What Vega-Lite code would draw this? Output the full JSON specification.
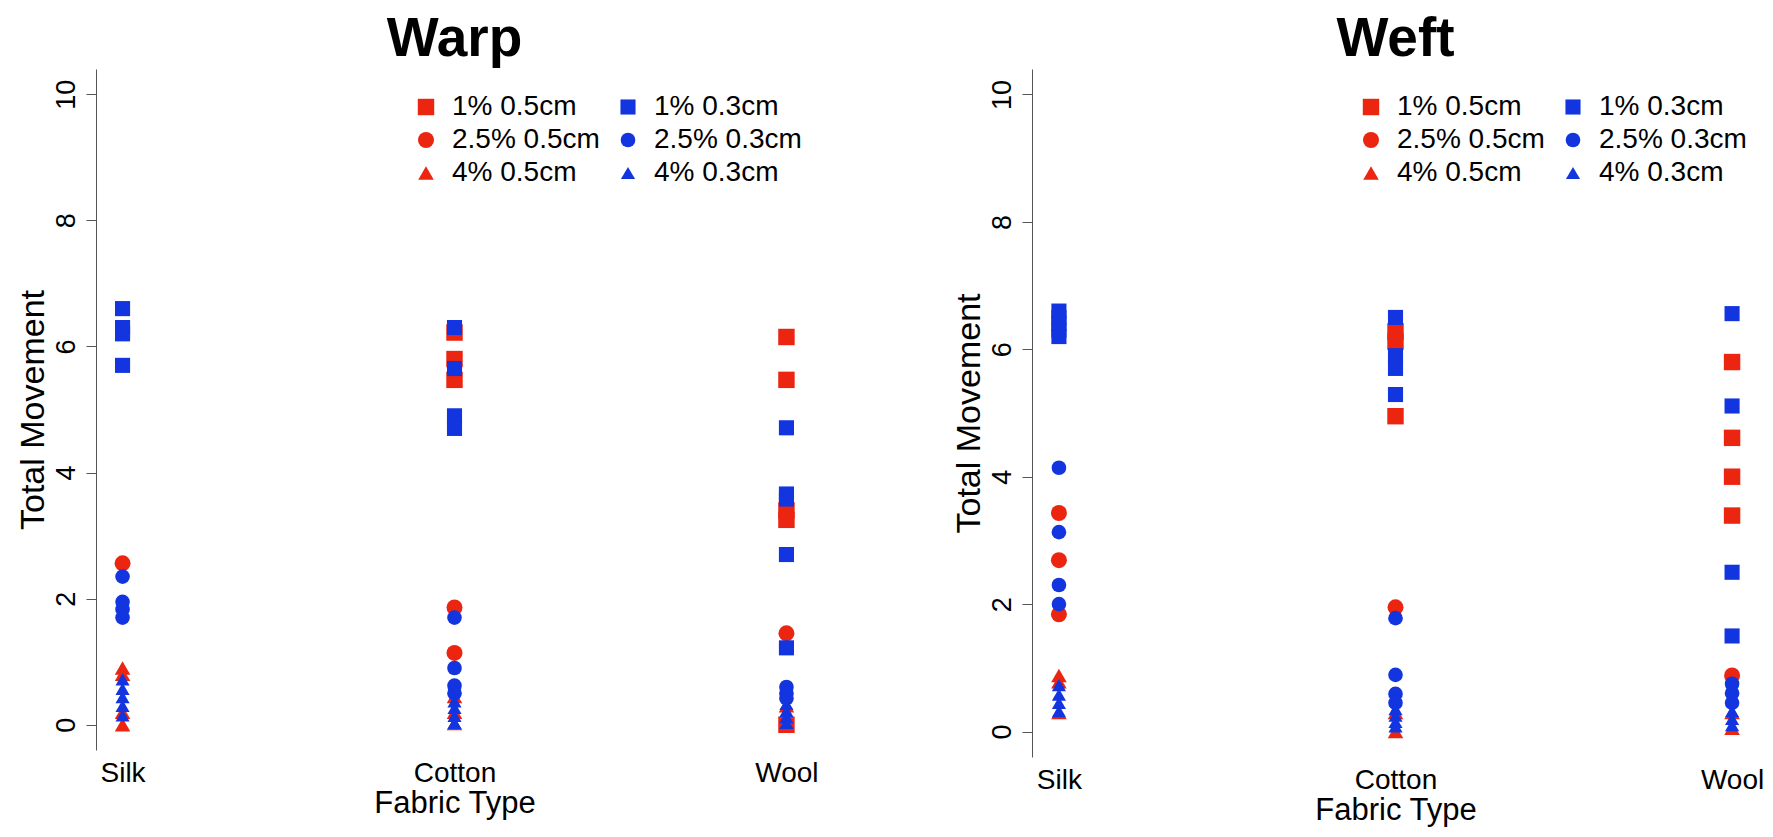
{
  "$schema": "https://vega.github.io/schema/vega-lite/v6.json",
  "background": "white",
  "padding": {"left": 16, "top": 12, "right": 5, "bottom": 5},
  "config": {
    "font": "Liberation Sans",
    "view": {"stroke": null},
    "axis": {"grid": false, "labelColor": "black", "titleColor": "black", "titleFontWeight": "normal", "domainColor": "#555", "tickColor": "#555", "labelFont": "Liberation Sans", "titleFont": "Liberation Sans"},
    "title": {"fontSize": 55, "fontWeight": "bold", "color": "black", "anchor": "middle", "baseline": "alphabetic", "offset": 1, "font": "Liberation Sans"}
  },
  "bounds": "flush",
  "spacing": 219,
  "datasets": {
    "pts": [
      {"panel": "Warp", "fabric": "Silk", "group": "2.5% 0.5cm", "movement": 2.56},
      {"panel": "Warp", "fabric": "Silk", "group": "4% 0.5cm", "movement": 0.9},
      {"panel": "Warp", "fabric": "Silk", "group": "4% 0.5cm", "movement": 0.8},
      {"panel": "Warp", "fabric": "Silk", "group": "4% 0.5cm", "movement": 0.2},
      {"panel": "Warp", "fabric": "Silk", "group": "4% 0.5cm", "movement": 0.0},
      {"panel": "Warp", "fabric": "Cotton", "group": "1% 0.5cm", "movement": 6.22},
      {"panel": "Warp", "fabric": "Cotton", "group": "1% 0.5cm", "movement": 5.8},
      {"panel": "Warp", "fabric": "Cotton", "group": "1% 0.5cm", "movement": 5.47},
      {"panel": "Warp", "fabric": "Cotton", "group": "2.5% 0.5cm", "movement": 1.86},
      {"panel": "Warp", "fabric": "Cotton", "group": "2.5% 0.5cm", "movement": 1.14},
      {"panel": "Warp", "fabric": "Cotton", "group": "4% 0.5cm", "movement": 0.45},
      {"panel": "Warp", "fabric": "Cotton", "group": "4% 0.5cm", "movement": 0.2},
      {"panel": "Warp", "fabric": "Cotton", "group": "4% 0.5cm", "movement": 0.02},
      {"panel": "Warp", "fabric": "Wool", "group": "1% 0.5cm", "movement": 6.15},
      {"panel": "Warp", "fabric": "Wool", "group": "1% 0.5cm", "movement": 5.47},
      {"panel": "Warp", "fabric": "Wool", "group": "1% 0.5cm", "movement": 3.4},
      {"panel": "Warp", "fabric": "Wool", "group": "1% 0.5cm", "movement": 3.25},
      {"panel": "Warp", "fabric": "Wool", "group": "1% 0.5cm", "movement": 0.0},
      {"panel": "Warp", "fabric": "Wool", "group": "2.5% 0.5cm", "movement": 1.45},
      {"panel": "Warp", "fabric": "Wool", "group": "4% 0.5cm", "movement": 0.3},
      {"panel": "Warp", "fabric": "Wool", "group": "4% 0.5cm", "movement": 0.05},
      {"panel": "Warp", "fabric": "Silk", "group": "1% 0.3cm", "movement": 6.6},
      {"panel": "Warp", "fabric": "Silk", "group": "1% 0.3cm", "movement": 6.3},
      {"panel": "Warp", "fabric": "Silk", "group": "1% 0.3cm", "movement": 6.2},
      {"panel": "Warp", "fabric": "Silk", "group": "1% 0.3cm", "movement": 5.7},
      {"panel": "Warp", "fabric": "Silk", "group": "2.5% 0.3cm", "movement": 2.35},
      {"panel": "Warp", "fabric": "Silk", "group": "2.5% 0.3cm", "movement": 1.95},
      {"panel": "Warp", "fabric": "Silk", "group": "2.5% 0.3cm", "movement": 1.83},
      {"panel": "Warp", "fabric": "Silk", "group": "2.5% 0.3cm", "movement": 1.7},
      {"panel": "Warp", "fabric": "Silk", "group": "4% 0.3cm", "movement": 0.72},
      {"panel": "Warp", "fabric": "Silk", "group": "4% 0.3cm", "movement": 0.57},
      {"panel": "Warp", "fabric": "Silk", "group": "4% 0.3cm", "movement": 0.44},
      {"panel": "Warp", "fabric": "Silk", "group": "4% 0.3cm", "movement": 0.3},
      {"panel": "Warp", "fabric": "Silk", "group": "4% 0.3cm", "movement": 0.15},
      {"panel": "Warp", "fabric": "Cotton", "group": "1% 0.3cm", "movement": 6.3},
      {"panel": "Warp", "fabric": "Cotton", "group": "1% 0.3cm", "movement": 5.65},
      {"panel": "Warp", "fabric": "Cotton", "group": "1% 0.3cm", "movement": 4.9},
      {"panel": "Warp", "fabric": "Cotton", "group": "1% 0.3cm", "movement": 4.7},
      {"panel": "Warp", "fabric": "Cotton", "group": "2.5% 0.3cm", "movement": 1.7},
      {"panel": "Warp", "fabric": "Cotton", "group": "2.5% 0.3cm", "movement": 0.9},
      {"panel": "Warp", "fabric": "Cotton", "group": "2.5% 0.3cm", "movement": 0.62},
      {"panel": "Warp", "fabric": "Cotton", "group": "2.5% 0.3cm", "movement": 0.5},
      {"panel": "Warp", "fabric": "Cotton", "group": "4% 0.3cm", "movement": 0.37},
      {"panel": "Warp", "fabric": "Cotton", "group": "4% 0.3cm", "movement": 0.27},
      {"panel": "Warp", "fabric": "Cotton", "group": "4% 0.3cm", "movement": 0.14},
      {"panel": "Warp", "fabric": "Cotton", "group": "4% 0.3cm", "movement": 0.03},
      {"panel": "Warp", "fabric": "Wool", "group": "1% 0.3cm", "movement": 4.71},
      {"panel": "Warp", "fabric": "Wool", "group": "1% 0.3cm", "movement": 3.66},
      {"panel": "Warp", "fabric": "Wool", "group": "1% 0.3cm", "movement": 3.58},
      {"panel": "Warp", "fabric": "Wool", "group": "1% 0.3cm", "movement": 2.7},
      {"panel": "Warp", "fabric": "Wool", "group": "1% 0.3cm", "movement": 1.22},
      {"panel": "Warp", "fabric": "Wool", "group": "2.5% 0.3cm", "movement": 0.6},
      {"panel": "Warp", "fabric": "Wool", "group": "2.5% 0.3cm", "movement": 0.5},
      {"panel": "Warp", "fabric": "Wool", "group": "2.5% 0.3cm", "movement": 0.42},
      {"panel": "Warp", "fabric": "Wool", "group": "4% 0.3cm", "movement": 0.33},
      {"panel": "Warp", "fabric": "Wool", "group": "4% 0.3cm", "movement": 0.22},
      {"panel": "Warp", "fabric": "Wool", "group": "4% 0.3cm", "movement": 0.12},
      {"panel": "Warp", "fabric": "Wool", "group": "4% 0.3cm", "movement": 0.03},

      {"panel": "Weft", "fabric": "Silk", "group": "2.5% 0.5cm", "movement": 3.43},
      {"panel": "Weft", "fabric": "Silk", "group": "2.5% 0.5cm", "movement": 2.69},
      {"panel": "Weft", "fabric": "Silk", "group": "2.5% 0.5cm", "movement": 1.84},
      {"panel": "Weft", "fabric": "Silk", "group": "4% 0.5cm", "movement": 0.88},
      {"panel": "Weft", "fabric": "Silk", "group": "4% 0.5cm", "movement": 0.78},
      {"panel": "Weft", "fabric": "Silk", "group": "4% 0.5cm", "movement": 0.3},
      {"panel": "Weft", "fabric": "Cotton", "group": "1% 0.5cm", "movement": 6.28},
      {"panel": "Weft", "fabric": "Cotton", "group": "1% 0.5cm", "movement": 6.12},
      {"panel": "Weft", "fabric": "Cotton", "group": "1% 0.5cm", "movement": 4.95},
      {"panel": "Weft", "fabric": "Cotton", "group": "2.5% 0.5cm", "movement": 1.95},
      {"panel": "Weft", "fabric": "Cotton", "group": "4% 0.5cm", "movement": 0.3},
      {"panel": "Weft", "fabric": "Cotton", "group": "4% 0.5cm", "movement": 0.0},
      {"panel": "Weft", "fabric": "Wool", "group": "1% 0.5cm", "movement": 5.8},
      {"panel": "Weft", "fabric": "Wool", "group": "1% 0.5cm", "movement": 4.61},
      {"panel": "Weft", "fabric": "Wool", "group": "1% 0.5cm", "movement": 4.0},
      {"panel": "Weft", "fabric": "Wool", "group": "1% 0.5cm", "movement": 3.39},
      {"panel": "Weft", "fabric": "Wool", "group": "2.5% 0.5cm", "movement": 0.88},
      {"panel": "Weft", "fabric": "Wool", "group": "4% 0.5cm", "movement": 0.3},
      {"panel": "Weft", "fabric": "Wool", "group": "4% 0.5cm", "movement": 0.05},
      {"panel": "Weft", "fabric": "Silk", "group": "1% 0.3cm", "movement": 6.6},
      {"panel": "Weft", "fabric": "Silk", "group": "1% 0.3cm", "movement": 6.5},
      {"panel": "Weft", "fabric": "Silk", "group": "1% 0.3cm", "movement": 6.4},
      {"panel": "Weft", "fabric": "Silk", "group": "1% 0.3cm", "movement": 6.3},
      {"panel": "Weft", "fabric": "Silk", "group": "1% 0.3cm", "movement": 6.2},
      {"panel": "Weft", "fabric": "Silk", "group": "2.5% 0.3cm", "movement": 4.14},
      {"panel": "Weft", "fabric": "Silk", "group": "2.5% 0.3cm", "movement": 3.13},
      {"panel": "Weft", "fabric": "Silk", "group": "2.5% 0.3cm", "movement": 2.3},
      {"panel": "Weft", "fabric": "Silk", "group": "2.5% 0.3cm", "movement": 2.0},
      {"panel": "Weft", "fabric": "Silk", "group": "4% 0.3cm", "movement": 0.73},
      {"panel": "Weft", "fabric": "Silk", "group": "4% 0.3cm", "movement": 0.58},
      {"panel": "Weft", "fabric": "Silk", "group": "4% 0.3cm", "movement": 0.45},
      {"panel": "Weft", "fabric": "Silk", "group": "4% 0.3cm", "movement": 0.32},
      {"panel": "Weft", "fabric": "Cotton", "group": "1% 0.3cm", "movement": 6.5},
      {"panel": "Weft", "fabric": "Cotton", "group": "1% 0.3cm", "movement": 5.9},
      {"panel": "Weft", "fabric": "Cotton", "group": "1% 0.3cm", "movement": 5.7},
      {"panel": "Weft", "fabric": "Cotton", "group": "1% 0.3cm", "movement": 5.29},
      {"panel": "Weft", "fabric": "Cotton", "group": "2.5% 0.3cm", "movement": 1.78},
      {"panel": "Weft", "fabric": "Cotton", "group": "2.5% 0.3cm", "movement": 0.89},
      {"panel": "Weft", "fabric": "Cotton", "group": "2.5% 0.3cm", "movement": 0.59},
      {"panel": "Weft", "fabric": "Cotton", "group": "2.5% 0.3cm", "movement": 0.45},
      {"panel": "Weft", "fabric": "Cotton", "group": "4% 0.3cm", "movement": 0.35},
      {"panel": "Weft", "fabric": "Cotton", "group": "4% 0.3cm", "movement": 0.25},
      {"panel": "Weft", "fabric": "Cotton", "group": "4% 0.3cm", "movement": 0.15},
      {"panel": "Weft", "fabric": "Cotton", "group": "4% 0.3cm", "movement": 0.08},
      {"panel": "Weft", "fabric": "Wool", "group": "1% 0.3cm", "movement": 6.56},
      {"panel": "Weft", "fabric": "Wool", "group": "1% 0.3cm", "movement": 5.11},
      {"panel": "Weft", "fabric": "Wool", "group": "1% 0.3cm", "movement": 2.5},
      {"panel": "Weft", "fabric": "Wool", "group": "1% 0.3cm", "movement": 1.5},
      {"panel": "Weft", "fabric": "Wool", "group": "2.5% 0.3cm", "movement": 0.75},
      {"panel": "Weft", "fabric": "Wool", "group": "2.5% 0.3cm", "movement": 0.6},
      {"panel": "Weft", "fabric": "Wool", "group": "2.5% 0.3cm", "movement": 0.45},
      {"panel": "Weft", "fabric": "Wool", "group": "4% 0.3cm", "movement": 0.32},
      {"panel": "Weft", "fabric": "Wool", "group": "4% 0.3cm", "movement": 0.2},
      {"panel": "Weft", "fabric": "Wool", "group": "4% 0.3cm", "movement": 0.1}
    ]
  },
  "hconcat": [
    {
      "title": {"text": "Warp"},
      "width": 717,
      "height": 681,
      "data": {"name": "pts"},
      "transform": [{"filter": "datum.panel === 'Warp'"}],
      "mark": {"type": "point", "filled": true, "opacity": 1, "strokeWidth": 0},
      "encoding": {
        "x": {"field": "fabric", "type": "nominal", "sort": null,
          "scale": {"type": "point", "domain": ["Silk", "Cotton", "Wool"], "padding": 0.08},
          "axis": {"title": "Fabric Type", "titleFontSize": 31, "labelFontSize": 28, "labelAngle": 0, "domain": false, "ticks": false, "labelPadding": 9, "titlePadding": 1}},
        "y": {"field": "movement", "type": "quantitative",
          "scale": {"domain": [-0.4, 10.4], "nice": false, "zero": false},
          "axis": {"title": "Total Movement", "titleFontSize": 34, "labelFontSize": 27, "values": [0, 2, 4, 6, 8, 10], "tickSize": 10, "labelAngle": -90, "labelAlign": "center", "labelBaseline": "bottom", "labelPadding": 6, "titlePadding": 2}},
        "color": {"field": "group", "type": "nominal",
          "scale": {"domain": ["1% 0.5cm", "2.5% 0.5cm", "4% 0.5cm", "1% 0.3cm", "2.5% 0.3cm", "4% 0.3cm"], "range": ["#EB2510", "#EB2510", "#EB2510", "#1235E0", "#1235E0", "#1235E0"]},
          "legend": {"orient": "none", "legendX": 316, "legendY": 24, "columns": 2, "title": null, "labelFontSize": 28, "symbolSize": 110, "labelOffset": 12, "columnPadding": 14, "rowPadding": 5, "padding": 0, "labelColor": "black", "symbolStrokeWidth": 0}},
        "shape": {"field": "group", "type": "nominal",
          "scale": {"domain": ["1% 0.5cm", "2.5% 0.5cm", "4% 0.5cm", "1% 0.3cm", "2.5% 0.3cm", "4% 0.3cm"], "range": ["square", "circle", "triangle-up", "square", "circle", "triangle-up"]},
          "legend": {"orient": "none", "legendX": 316, "legendY": 24, "columns": 2, "title": null, "labelFontSize": 28, "symbolSize": 110, "labelOffset": 12, "columnPadding": 14, "rowPadding": 5, "padding": 0, "labelColor": "black", "symbolStrokeWidth": 0}},
        "size": {"field": "group", "type": "nominal",
          "scale": {"domain": ["1% 0.5cm", "2.5% 0.5cm", "4% 0.5cm", "1% 0.3cm", "2.5% 0.3cm", "4% 0.3cm"], "range": [270, 200, 420, 270, 200, 420]},
          "legend": null}
      }
    },
    {
      "title": {"text": "Weft"},
      "width": 727,
      "height": 688,
      "data": {"name": "pts"},
      "transform": [{"filter": "datum.panel === 'Weft'"}],
      "mark": {"type": "point", "filled": true, "opacity": 1, "strokeWidth": 0},
      "encoding": {
        "x": {"field": "fabric", "type": "nominal", "sort": null,
          "scale": {"type": "point", "domain": ["Silk", "Cotton", "Wool"], "padding": 0.08},
          "axis": {"title": "Fabric Type", "titleFontSize": 31, "labelFontSize": 28, "labelAngle": 0, "domain": false, "ticks": false, "labelPadding": 9, "titlePadding": 1}},
        "y": {"field": "movement", "type": "quantitative",
          "scale": {"domain": [-0.4, 10.4], "nice": false, "zero": false},
          "axis": {"title": "Total Movement", "titleFontSize": 34, "labelFontSize": 27, "values": [0, 2, 4, 6, 8, 10], "tickSize": 10, "labelAngle": -90, "labelAlign": "center", "labelBaseline": "bottom", "labelPadding": 6, "titlePadding": 2}},
        "color": {"field": "group", "type": "nominal",
          "scale": {"domain": ["1% 0.5cm", "2.5% 0.5cm", "4% 0.5cm", "1% 0.3cm", "2.5% 0.3cm", "4% 0.3cm"], "range": ["#EB2510", "#EB2510", "#EB2510", "#1235E0", "#1235E0", "#1235E0"]},
          "legend": {"orient": "none", "legendX": 325, "legendY": 24, "columns": 2, "title": null, "labelFontSize": 28, "symbolSize": 110, "labelOffset": 12, "columnPadding": 14, "rowPadding": 5, "padding": 0, "labelColor": "black", "symbolStrokeWidth": 0}},
        "shape": {"field": "group", "type": "nominal",
          "scale": {"domain": ["1% 0.5cm", "2.5% 0.5cm", "4% 0.5cm", "1% 0.3cm", "2.5% 0.3cm", "4% 0.3cm"], "range": ["square", "circle", "triangle-up", "square", "circle", "triangle-up"]},
          "legend": {"orient": "none", "legendX": 325, "legendY": 24, "columns": 2, "title": null, "labelFontSize": 28, "symbolSize": 110, "labelOffset": 12, "columnPadding": 14, "rowPadding": 5, "padding": 0, "labelColor": "black", "symbolStrokeWidth": 0}},
        "size": {"field": "group", "type": "nominal",
          "scale": {"domain": ["1% 0.5cm", "2.5% 0.5cm", "4% 0.5cm", "1% 0.3cm", "2.5% 0.3cm", "4% 0.3cm"], "range": [270, 200, 420, 270, 200, 420]},
          "legend": null}
      }
    }
  ],
  "resolve": {
    "scale": {"x": "independent", "y": "independent", "color": "independent", "shape": "independent", "size": "independent"},
    "legend": {"color": "independent", "shape": "independent"}
  }
}
